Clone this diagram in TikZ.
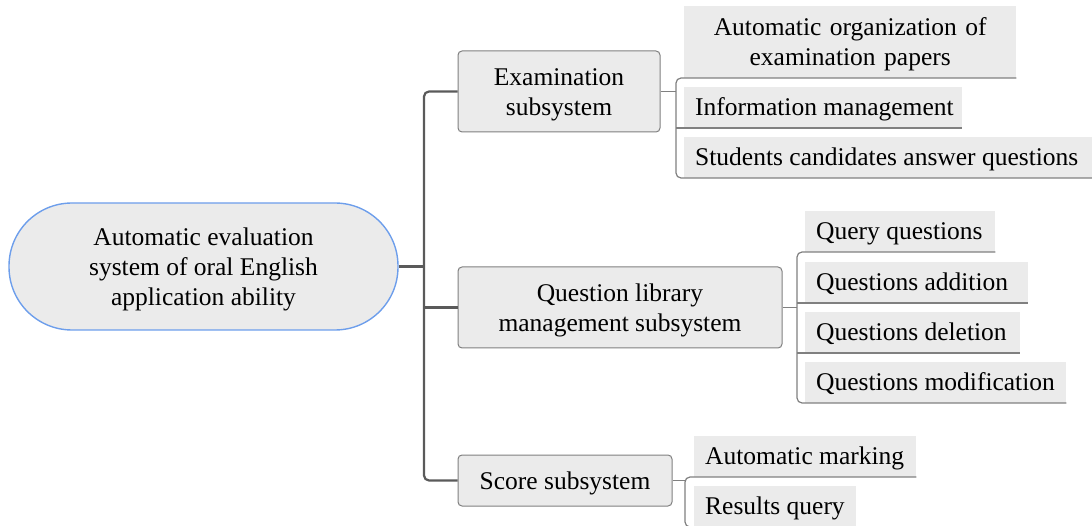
\documentclass[tikz,border=0pt]{standalone}
\usepackage{fontspec}
\setmainfont{Liberation Serif}
\definecolor{boxfill}{HTML}{EBEBEB}
\definecolor{rootblue}{HTML}{6D9EEB}
\definecolor{subborder}{HTML}{808080}
\definecolor{trunkgray}{HTML}{5A5A5A}
\definecolor{twiggray}{HTML}{808080}
% invisible rule that sets the height of a first line
\newcommand\topline{\rule{0pt}{23pt}}
% left-aligned single line of fixed width
\newcommand\leafline[2]{\makebox[#1][l]{\rule[-9pt]{0pt}{35pt}#2}}
\begin{document}
\begin{tikzpicture}[x=1pt,y=-1pt,
  every node/.style={font=\fontsize{25.5}{30}\selectfont, text=black},
  rootbox/.style={draw=rootblue, line width=1.4pt, fill=boxfill,
    rounded corners=63pt, minimum width=389pt, minimum height=127pt,
    align=center, inner sep=0pt},
  subbox/.style={draw=subborder, line width=1pt, fill=boxfill,
    rounded corners=4pt, align=center, inner sep=0pt},
  leaf/.style={fill=boxfill, anchor=south west, inner xsep=11pt,
    inner ysep=0pt, minimum height=41pt},
  trunkline/.style={draw=trunkgray, line width=2.2pt},
  twig/.style={draw=twiggray, line width=1.2pt}
]
\useasboundingbox (0,0) rectangle (1092,526);
\clip (0,0) rectangle (1092,526);

% root and subsystems
\node[rootbox] (root) at (203.5,266.5)
  {\topline Automatic evaluation\\system of oral English\\application ability};
\node[subbox, minimum width=202pt, minimum height=81pt] (exam) at (559,91.5)
  {\topline Examination\\subsystem};
\node[subbox, minimum width=324pt, minimum height=81pt] (qlib) at (620,307.5)
  {\topline Question library\\management subsystem};
\node[subbox, minimum width=214pt, minimum height=51pt] (score) at (565,480.5)
  {\topline Score subsystem};

% examination leaves
\node[leaf, minimum height=72pt, text width=310pt, align=center] (e1) at (684,78)
  {\topline Automatic organization of\\examination papers};
\node[leaf] (e2) at (684,128) {\leafline{256pt}{Information management}};
\node[leaf] (e3) at (684,178) {\leafline{386pt}{Students candidates answer questions}};

% question library leaves
\node[leaf] (q1) at (805,252) {\leafline{168pt}{Query questions}};
\node[leaf] (q2) at (805,303) {\leafline{201pt}{Questions addition}};
\node[leaf] (q3) at (805,353) {\leafline{193pt}{Questions deletion}};
\node[leaf] (q4) at (805,403) {\leafline{239pt}{Questions modification}};

% score leaves
\node[leaf] (s1) at (694,477) {\leafline{200pt}{Automatic marking}};
\node[leaf] (s2) at (694,527) {\leafline{140pt}{Results query}};

% junction points
\coordinate (tk) at (424,266.5);
\coordinate (eb) at (676,91.5);
\coordinate (qb) at (797,307.5);
\coordinate (sb) at (685,480.5);

% trunk
\draw[trunkline] (root.east) -- (tk);
\draw[trunkline, rounded corners=5pt] (exam.west) -- (exam.west -| tk)
  -- (score.west -| tk) -- (score.west);
\draw[trunkline] (qlib.west -| tk) -- (qlib.west);

% examination bracket
\draw[twig] (exam.east) -- (eb);
\draw[twig, rounded corners=5pt] (e1.south east) -- (e1.south -| eb)
  -- (e3.south -| eb) -- (e3.south east);
\draw[twig] (e2.south -| eb) -- (e2.south east);

% question library bracket
\draw[twig] (qlib.east) -- (qb);
\draw[twig, rounded corners=5pt] (q1.south east) -- (q1.south -| qb)
  -- (q4.south -| qb) -- (q4.south east);
\draw[twig] (q2.south -| qb) -- (q2.south east);
\draw[twig] (q3.south -| qb) -- (q3.south east);

% score bracket
\draw[twig] (score.east) -- (sb);
\draw[twig, rounded corners=5pt] (s1.south east) -- (s1.south -| sb)
  -- (s2.south -| sb) -- (s2.south east);
\end{tikzpicture}
\end{document}
